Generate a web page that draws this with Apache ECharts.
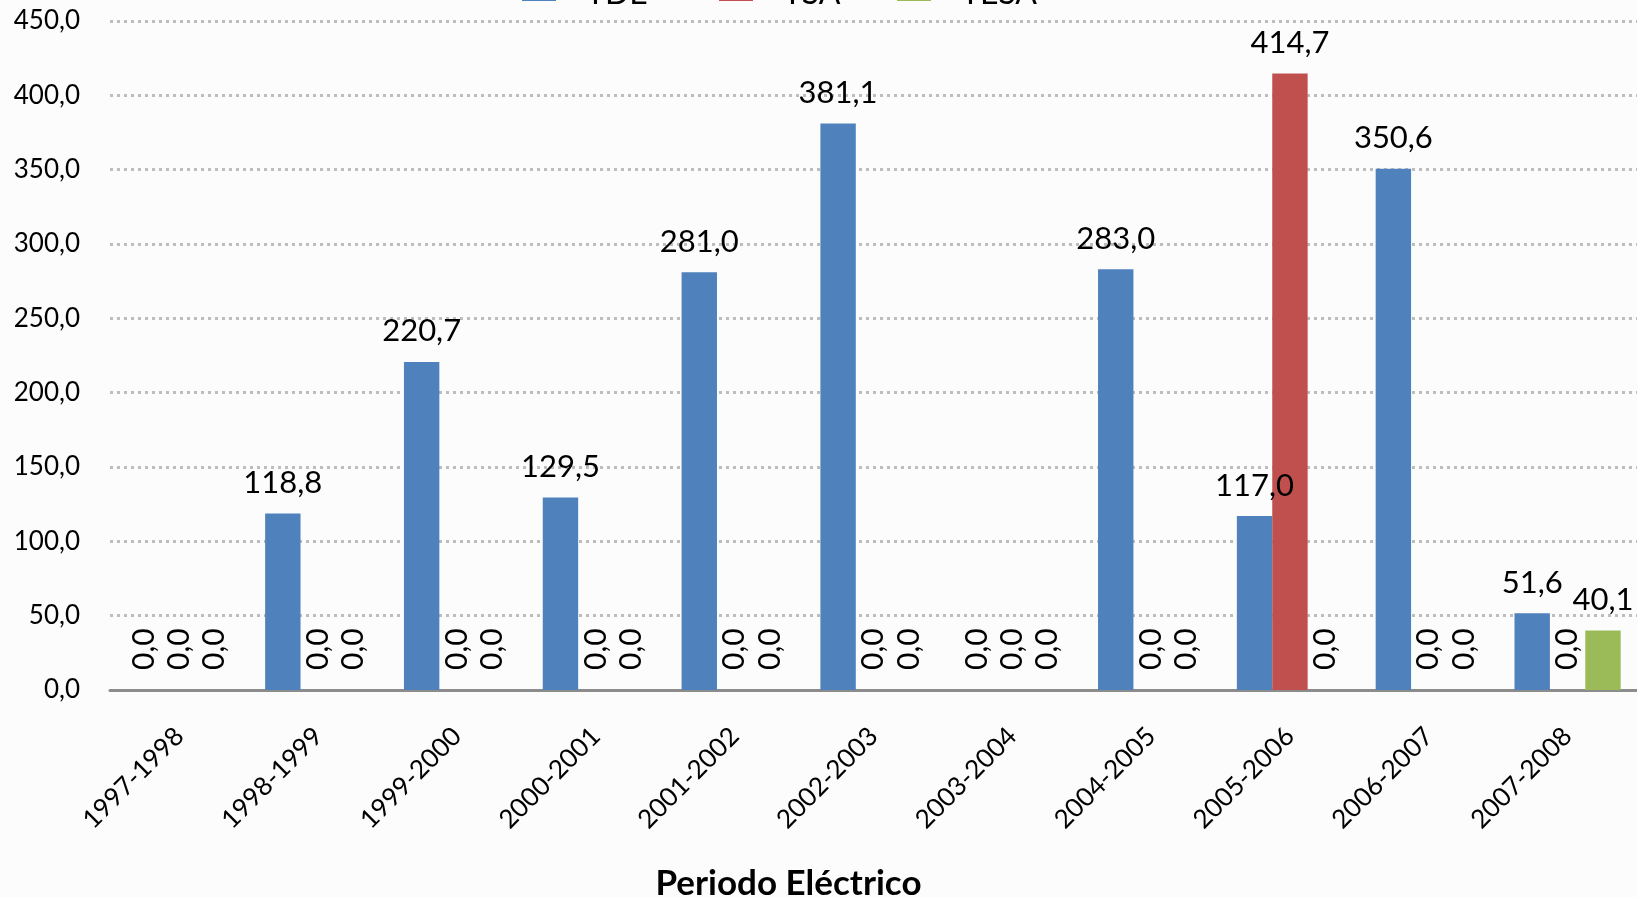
<!DOCTYPE html>
<html>
<head>
<meta charset="utf-8">
<script src="https://cdn.jsdelivr.net/npm/echarts@6/dist/echarts.min.js"></script>
<style>
  html, body { margin: 0; padding: 0; background: #fcfcfc; }
  #chart { width: 1637px; height: 897px; }
</style>
</head>
<body>
<div id="chart"></div>
<script>
/* ---------- data ---------- */
const periods = ['1997-1998', '1998-1999', '1999-2000', '2000-2001', '2001-2002', '2002-2003',
                 '2003-2004', '2004-2005', '2005-2006', '2006-2007', '2007-2008'];
const seriesNames = ['TDE', 'TSA', 'TESA'];
const blueValues = [0, 118.8, 220.7, 129.5, 281.0, 381.1, 0, 283.0, 117.0, 350.6, 51.6];
const redValues = [0, 0, 0, 0, 0, 0, 0, 0, 414.7, 0, 0];
const greenValues = [0, 0, 0, 0, 0, 0, 0, 0, 0, 0, 40.1];
const colors = ['#4F81BD', '#C0504D', '#9BBB59'];

const FONT = 'Lato';
const fmt = (v) => v.toFixed(1).replace('.', ',');

/* ---------- labels: zero values are drawn vertical ---------- */
const zeroLabel = {
  show: true,
  position: 'top',
  distance: 20,
  rotate: 90,
  align: 'left',
  verticalAlign: 'middle',
  fontSize: 30,
  fontFamily: FONT,
  color: '#000'
};

function toItems(values) {
  return values.map(v => (v === 0 ? { value: v, label: zeroLabel } : { value: v }));
}

function makeSeries(name, values, color) {
  return {
    name: name,
    type: 'bar',
    barWidth: '25.5%',
    barGap: '0%',
    itemStyle: { color: color },
    label: {
      show: true,
      position: 'top',
      distance: 15,
      fontSize: 31,
      fontFamily: FONT,
      color: '#000',
      formatter: p => fmt(p.value)
    },
    data: toItems(values)
  };
}

/* one legend block per series, so each sits where the reference has it */
const legendLefts = [517, 714, 892];
function makeLegend(name, left) {
  return {
    top: -27,
    left: left,
    itemWidth: 34,
    itemHeight: 14,
    icon: 'rect',
    formatter: '{a|{name}}',
    textStyle: {
      fontSize: 32,
      fontFamily: FONT,
      color: '#000',
      rich: { a: { fontSize: 32, fontFamily: FONT, padding: [0, 0, 0, 25] } }
    },
    data: [name]
  };
}

const chart = echarts.init(document.getElementById('chart'));
chart.setOption({
  backgroundColor: '#fcfcfc',
  animation: false,
  color: colors,
  legend: seriesNames.map((n, i) => makeLegend(n, legendLefts[i])),
  grid: { left: 110, right: 0, top: 21, bottom: 207, containLabel: false, outerBoundsMode: 'none' },
  xAxis: {
    type: 'category',
    data: periods,
    name: 'Periodo Eléctrico',
    nameLocation: 'middle',
    nameGap: 176,
    nameTextStyle: {
      fontSize: 35, fontWeight: 'bold', fontFamily: FONT, color: '#000',
      padding: [0, 170, 0, 0]
    },
    axisLine: { lineStyle: { color: '#8c8c8c', width: 3 } },
    axisTick: { show: false },
    axisLabel: { rotate: 45, margin: 42, fontSize: 26, fontFamily: FONT, color: '#000' }
  },
  yAxis: {
    type: 'value',
    min: 0,
    max: 450,
    interval: 50,
    axisLine: { show: false },
    axisTick: { show: false },
    axisLabel: { margin: 30, fontSize: 26, fontFamily: FONT, color: '#000', formatter: v => fmt(v) },
    splitLine: { lineStyle: { color: '#bdbdbd', width: 3, type: [3, 4] } }
  },
  series: [
    makeSeries(seriesNames[0], blueValues, colors[0]),
    makeSeries(seriesNames[1], redValues, colors[1]),
    makeSeries(seriesNames[2], greenValues, colors[2])
  ]
});
</script>
</body>
</html>
